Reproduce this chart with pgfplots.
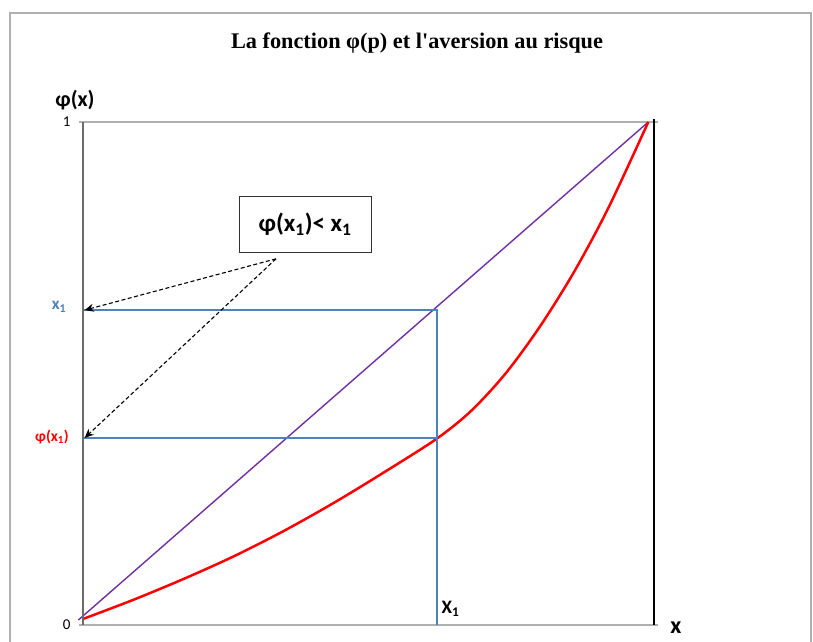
\documentclass[border=0pt]{standalone}
\usepackage{fontspec}
\setmainfont{Carlito}
\newfontfamily\titlefont{Liberation Serif}
\usepackage{pgfplots}
\pgfplotsset{compat=1.18}
\usetikzlibrary{arrows.meta}
\definecolor{exblue}{HTML}{4F81BD}
\definecolor{expurple}{HTML}{7030A0}
\definecolor{exgrid}{HTML}{B0B0B0}
\begin{document}
\begin{tikzpicture}[x=1pt,y=1pt]
\useasboundingbox (-83,-16) rectangle (730,625);
\draw[exgrid, line width=1.2pt] (-73,-20) -- (-73,612) -- (728,612) -- (728,-20);
\node[font=\titlefont\fontsize{22.3}{26}\selectfont\bfseries] at (334,582) {La fonction φ(p) et l'aversion au risque};
\begin{axis}[
  at={(0,0)}, anchor=origin,
  scale only axis, width=571pt, height=503pt,
  xmin=0, xmax=1, ymin=0, ymax=1,
  axis line style={exgrid, line width=2.2pt},
  xtick=\empty,
  ytick={0,1},
  yticklabels={0,1},
  tick style={exgrid, line width=1.5pt},
  tick align=outside,
  major tick length=4pt,
  y tick label style={font=\fontsize{15}{17}\selectfont, xshift=-5pt},
  /pgf/number format/assume math mode=true,
  clip=false,
]
% diagonale
\addplot[expurple, line width=1.4pt] coordinates {(-0.008,0.010) (0.99,1.0)};
% courbe phi
\addplot[red, line width=2.5pt, smooth] coordinates {
  (0,0.012) (0.088,0.050) (0.175,0.091) (0.263,0.136) (0.350,0.186)
  (0.438,0.242) (0.525,0.302) (0.619,0.370) (0.680,0.426) (0.740,0.500)
  (0.800,0.593) (0.860,0.702) (0.920,0.829) (0.990,1.0)};
% lignes bleues
\addplot[exblue, line width=1.9pt] coordinates {(0,0.626) (0.62,0.626) (0.62,0)};
\addplot[exblue, line width=1.9pt] coordinates {(0,0.372) (0.62,0.372)};
% trait vertical noir
\addplot[black, line width=1.6pt] coordinates {(1,1.006) (1,0)};
% boite
\node[draw=black!80, line width=1pt, minimum width=132pt, minimum height=56pt,
  font=\fontsize{25}{29}\selectfont\bfseries] at (axis cs:0.389,0.797)
  {φ(x\textsubscript{1})< x\textsubscript{1}};
\draw[dash pattern=on 4pt off 2.5pt, line width=1.1pt, -{Stealth[length=9pt,width=8pt]}] (axis cs:0.338,0.728) -- (axis cs:0.003,0.626);
\draw[dash pattern=on 4pt off 2.5pt, line width=1.1pt, -{Stealth[length=9pt,width=8pt]}] (axis cs:0.338,0.728) -- (axis cs:0.003,0.372);
\end{axis}
\draw[gray!85!black, line width=2.2pt] (0,0) -- (0,503);
\node[font=\fontsize{22}{24}\selectfont\bfseries] at (-8,525) {φ(x)};
\node[font=\fontsize{24}{26}\selectfont\bfseries] at (593,-3) {x};
\node[font=\fontsize{17}{19}\selectfont\bfseries, text=exblue] at (-24,318) {x\textsubscript{1}};
\node[font=\fontsize{15.5}{17}\selectfont\bfseries, text=red] at (-31,188) {φ(x\textsubscript{1})};
\node[font=\fontsize{19}{21}\selectfont\bfseries, anchor=west] at (355,16) {X\textsubscript{1}};
\end{tikzpicture}
\end{document}
